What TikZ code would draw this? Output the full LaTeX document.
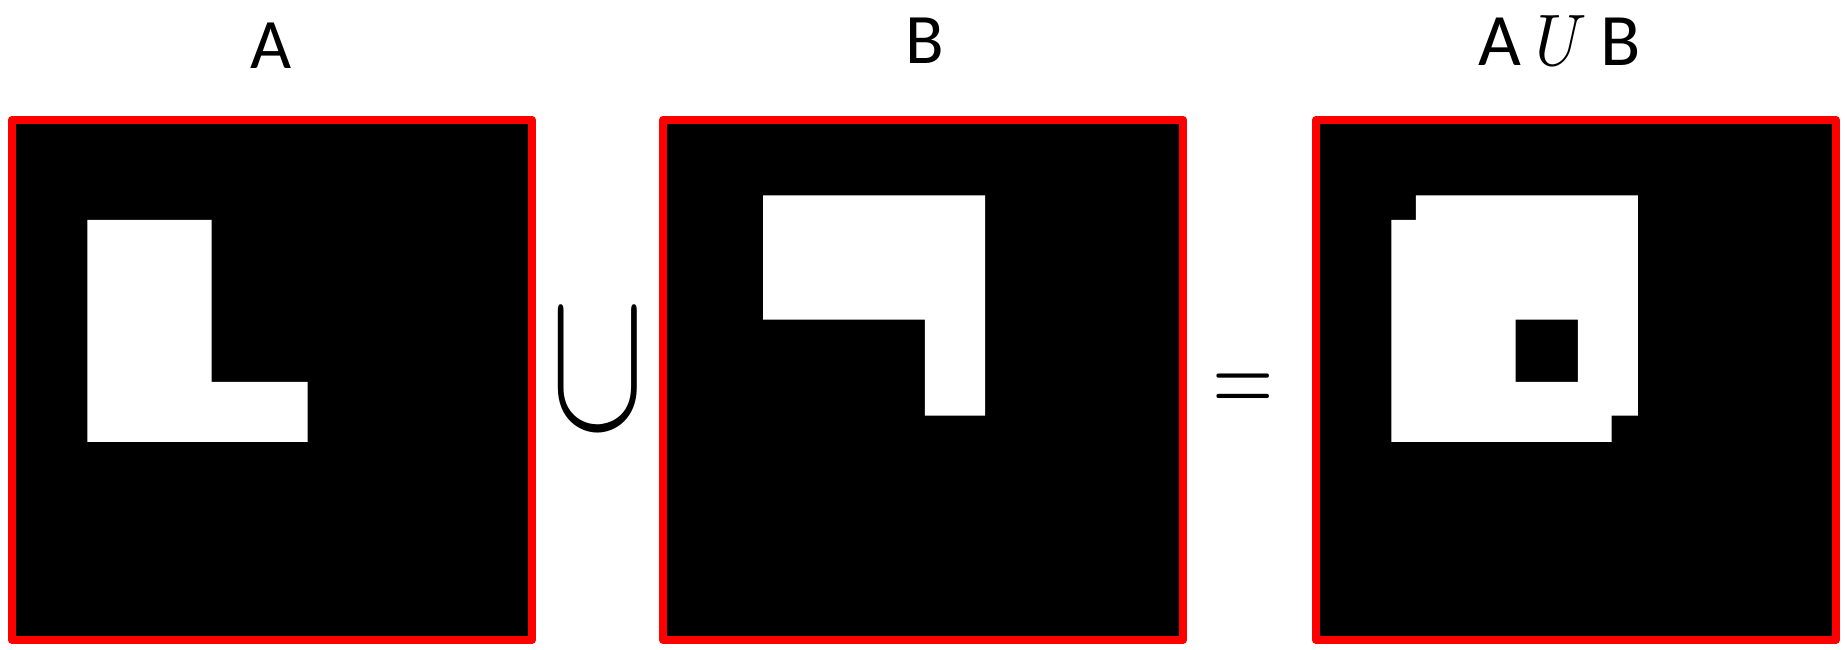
\documentclass[tikz,border=0pt]{standalone}
\usepackage{fontspec}
\setmainfont{Carlito}
\usepackage{graphicx}
\usetikzlibrary{calc}

% white regions, in pixels from the inner top left corner of a picture
\newcommand{\Lshape}{(71.3,95.8) -- (195.5,95.8) -- (195.5,257.7) -- (291.5,257.7) -- (291.5,317.9) -- (71.3,317.9) -- cycle}
\newcommand{\Gshape}{(95.8,71.3) -- (317.9,71.3) -- (317.9,291.5) -- (257.7,291.5) -- (257.7,195.5) -- (95.8,195.5) -- cycle}

\begin{document}
\begin{tikzpicture}[x=1pt,y=-1pt,
  panel/.style={draw=red,fill=black,line width=8.3pt,line join=round,minimum size=520pt,inner sep=0pt,outer sep=0pt},
  lbl/.style={font=\fontsize{71}{80}\selectfont,inner sep=0pt,anchor=base},
  blob/.style={fill=white}]

 \useasboundingbox (0,0) rectangle (1845,650);

 % the three pictures
 \node[panel] (pa) at (271.9,379.9) {};
 \node[panel] (pb) at (923.1,379.9) {};
 \node[panel] (pc) at (1575.9,379.9) {};

 % set A
 \begin{scope}[shift={($(pa.north west)+(4.15,4.15)$)}]
   \fill[blob] \Lshape;
 \end{scope}
 % set B
 \begin{scope}[shift={($(pb.north west)+(4.15,4.15)$)}]
   \fill[blob] \Gshape;
 \end{scope}
 % union
 \begin{scope}[shift={($(pc.north west)+(4.15,4.15)$)}]
   \fill[blob] \Lshape;
   \fill[blob] \Gshape;
 \end{scope}

 % titles
 \node[lbl] (la) at (271.5,69) {A};
 \node[lbl] (lb) at (924.6,64) {B};
 \node[lbl,font=\fontsize{74}{80}\selectfont] (lc) at (1559.5,65.7)
   {A\hspace{14pt}\scalebox{6.5}[7.3]{\normalsize$U$}\hspace{14pt}B};

 % operators
 \node[inner sep=0pt] (cup) at (597.8,371) {\scalebox{14.2}[20.7]{$\cup$}};
 \node[inner sep=0pt] (eq) at (1243.3,393) {\scalebox{7.9}[10.5]{$=$}};
\end{tikzpicture}
\end{document}
